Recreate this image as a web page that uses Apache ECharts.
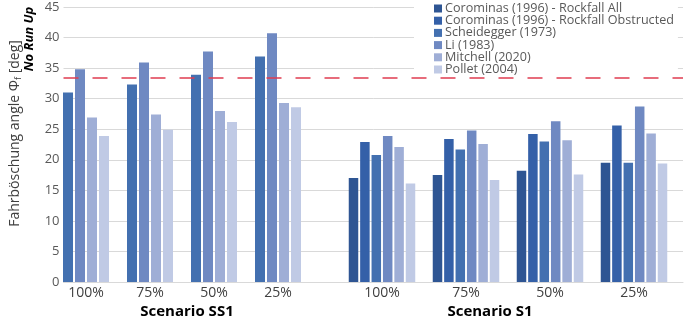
<!DOCTYPE html>
<html lang="de">
<head>
    <meta charset="UTF-8">
    <title>Fahrböschung angle</title>
    <script src="https://cdn.jsdelivr.net/npm/echarts@6/dist/echarts.min.js"></script>
    <style>
        html, body { margin: 0; padding: 0; background: #fff; }
        #charts { width: 685px; height: 318px; }
    </style>
</head>
<body>
<div id="charts"></div>

<script>
    // categories + tick labels
    var cats = ['100%', '75%', '50%', '25%'];
    var yTicks = [0, 5, 10, 15, 20, 25, 30, 35, 40, 45];
    var noRunUp = 33.4;

    // Scenario SS1 (only 4 methods)
    var ss1Scheidegger = [31.0, 32.3, 33.9, 36.9];
    var ss1Li = [34.8, 35.9, 37.7, 40.7];
    var ss1Mitchell = [26.9, 27.4, 28.0, 29.3];
    var ss1Pollet = [23.9, 24.9, 26.2, 28.6];

    // Scenario S1
    var s1CorAll = [17.0, 17.5, 18.2, 19.5];
    var s1CorObs = [22.9, 23.4, 24.2, 25.6];
    var s1Scheidegger = [20.8, 21.7, 23.0, 19.5];
    var s1Li = [23.9, 24.8, 26.3, 28.7];
    var s1Mitchell = [22.1, 22.6, 23.2, 24.3];
    var s1Pollet = [16.1, 16.7, 17.6, 19.4];

    var names = ['Corominas (1996) - Rockfall All', 'Corominas (1996) - Rockfall Obstructed',
        'Scheidegger (1973)', 'Li (1983)', 'Mitchell (2020)', 'Pollet (2004)'];
    var colors = ['#2E5593', '#3460A8', '#4370B0', '#6F89C2', '#9FAED6', '#C0CAE5'];

    var font = '"Open Sans", sans-serif';
    var yMin = yTicks[0], yMax = yTicks[yTicks.length - 1];

    function bar(nameIdx, data, axis, w) {
        return {
            name: names[nameIdx],
            type: 'bar',
            xAxisIndex: axis,
            yAxisIndex: axis,
            data: data,
            barWidth: w,
            barGap: '20%',
            itemStyle: {color: colors[nameIdx]},
            animation: false
        };
    }

    var myChart = echarts.init(document.getElementById('charts'));

    var option = {
        animation: false,
        textStyle: {fontFamily: font},
        grid: [
            {left: 54, right: 2, top: 7, bottom: 36},      // background: gridlines + axis line
            {left: 54, width: 256, top: 7, bottom: 36},    // SS1
            {left: 340, width: 336, top: 7, bottom: 36}    // S1
        ],
        title: [
            {text: 'Scenario SS1', left: 182, top: 299, textAlign: 'center',
                textStyle: {fontFamily: font, fontSize: 15, fontWeight: 'bold', color: '#000'}},
            {text: 'Scenario S1', left: 485, top: 299, textAlign: 'center',
                textStyle: {fontFamily: font, fontSize: 15, fontWeight: 'bold', color: '#000'}}
        ],
        legend: {
            data: names,
            orient: 'vertical',
            left: 414,
            top: 0,
            padding: [2, 4, 1, 20],
            backgroundColor: '#fff',
            itemWidth: 8,
            itemHeight: 8,
            itemGap: -0.8,
            icon: 'rect',
            textStyle: {fontFamily: font, fontSize: 12.6, color: '#595959', padding: [0, 0, 0, -2]}
        },
        xAxis: [
            {gridIndex: 0, type: 'value', min: 0, max: 1, show: true,
                axisLine: {show: true, lineStyle: {color: '#D9D9D9'}},
                axisTick: {show: false}, axisLabel: {show: false}, splitLine: {show: false}},
            {gridIndex: 1, type: 'category', data: cats,
                axisLine: {show: false}, axisTick: {show: false},
                axisLabel: {margin: 4, fontSize: 14, color: '#404040', fontFamily: font}},
            {gridIndex: 2, type: 'category', data: cats,
                axisLine: {show: false}, axisTick: {show: false},
                axisLabel: {margin: 4, fontSize: 14, color: '#404040', fontFamily: font}}
        ],
        yAxis: [
            {gridIndex: 0, type: 'value', min: yMin, max: yMax, interval: 5,
                name: '{a|Fahrböschung angle Φ}{s|f}{a| [deg]}',
                nameLocation: 'middle',
                nameGap: 41,
                nameTextStyle: {
                    padding: [0, 0, 0, 22],
                    rich: {
                        a: {fontFamily: font, fontSize: 14, color: '#404040'},
                        s: {fontFamily: font, fontSize: 9, color: '#404040', verticalAlign: 'bottom', padding: [6, 0, 0, 0]}
                    }
                },
                axisLine: {show: false}, axisTick: {show: false},
                axisLabel: {margin: 4, fontSize: 13, color: '#595959', fontFamily: font},
                splitLine: {lineStyle: {color: '#D9D9D9', width: 1}}},
            {gridIndex: 1, type: 'value', min: yMin, max: yMax, show: false},
            {gridIndex: 2, type: 'value', min: yMin, max: yMax, show: false}
        ],
        graphic: [
            {type: 'text', x: 29, y: 39, rotation: Math.PI / 2, z: 10,
                style: {text: 'No Run Up', font: 'italic bold 13px ' + font, fill: '#000',
                    align: 'center', verticalAlign: 'middle'}}
        ],
        series: [
            {
                type: 'line', xAxisIndex: 0, yAxisIndex: 0, data: [], z: 5, silent: true,
                markLine: {
                    silent: true,
                    symbol: ['none', 'none'],
                    label: {show: false},
                    lineStyle: {color: '#E03C50', type: [15, 14], width: 1.5},
                    data: [{yAxis: noRunUp}]
                }
            },
            bar(2, ss1Scheidegger, 1, 10),
            bar(3, ss1Li, 1, 10),
            bar(4, ss1Mitchell, 1, 10),
            bar(5, ss1Pollet, 1, 10),
            bar(0, s1CorAll, 2, 9.5),
            bar(1, s1CorObs, 2, 9.5),
            bar(2, s1Scheidegger, 2, 9.5),
            bar(3, s1Li, 2, 9.5),
            bar(4, s1Mitchell, 2, 9.5),
            bar(5, s1Pollet, 2, 9.5)
        ]
    };

    myChart.setOption(option);
</script>
</body>
</html>
